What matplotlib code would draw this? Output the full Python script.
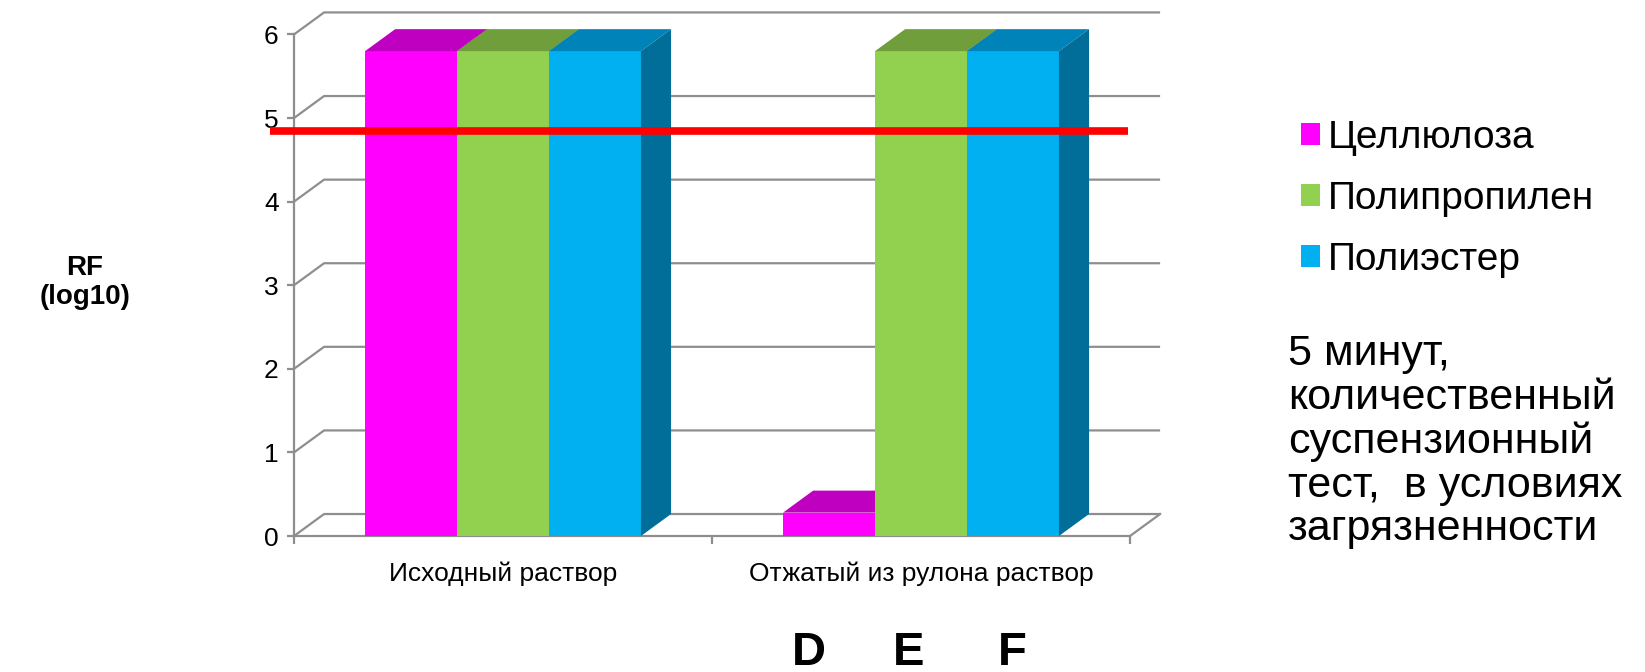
import matplotlib
matplotlib.use("Agg")
import matplotlib.pyplot as plt
from matplotlib.patches import Patch

plt.rcParams['font.family'] = ['Liberation Sans', 'DejaVu Sans']

# --------------------------------------------------------------------------------------------------------
# Data: RF (log10) per material for the two solutions
# --------------------------------------------------------------------------------------------------------
categories = ['Исходный раствор', 'Отжатый из рулона раствор']
materials = ['Целлюлоза', 'Полипропилен', 'Полиэстер']
cellulose = [5.8, 0.28]
polypropylene = [5.8, 5.8]
polyester = [5.8, 5.8]
threshold = 4.85
y_ticks = [0, 1, 2, 3, 4, 5, 6]
letters = ['D', 'E', 'F']
note = '5 минут,\nколичественный\nсуспензионный\nтест,  в условиях\nзагрязненности'

series = [cellulose, polypropylene, polyester]
front_colors = ['#ff00ff', '#92d050', '#00b0f0']
top_colors = ['#c000c0', '#6f9e3b', '#0083b8']
side_colors = ['#a800a8', '#5e8a30', '#006e99']
grid_color = '#8e8e8e'

# 3d depth of the box, in data units
dx = 0.072
dy = 0.263
bar_w = 0.22

fig = plt.figure(figsize=(16.45, 6.72), dpi=100)
ax = fig.add_axes([270 / 1645, 112 / 672, 895 / 1645, 555 / 672])
ax.set_xlim(-0.0574, 2.0837)
ax.set_ylim(-0.287, 6.352)
ax.patch.set_visible(False)

# back wall gridlines with the slanted side wall segment
for v in y_ticks:
    ax.plot([0, dx, len(categories) + dx], [v, v + dy, v + dy],
            color=grid_color, lw=1.6, zorder=1, solid_capstyle='butt')
ax.plot([len(categories), len(categories) + dx], [0, dy],
        color=grid_color, lw=1.6, zorder=1)

# axes spines placed on the front plane
for s in ['top', 'right']:
    ax.spines[s].set_visible(False)
ax.spines['left'].set_position(('data', 0))
ax.spines['left'].set_bounds(0, 6)
ax.spines['bottom'].set_position(('data', 0))
ax.spines['bottom'].set_bounds(0, len(categories))
for s in ['left', 'bottom']:
    ax.spines[s].set_color(grid_color)
    ax.spines[s].set_linewidth(1.6)
    ax.spines[s].set_zorder(1)

ax.set_yticks(y_ticks)
ax.tick_params(axis='y', direction='out', length=5, width=1.6, color=grid_color,
               labelsize=19, pad=6)
ax.set_xticks(range(len(categories) + 1))
ax.set_xticklabels([])
ax.set_xticks([i + 0.5 for i in range(len(categories))], minor=True)
ax.set_xticklabels(categories, minor=True, fontsize=19)
ax.tick_params(axis='x', which='major', direction='out', length=6, width=1.6, color=grid_color)
ax.tick_params(axis='x', which='minor', length=0, pad=18)


def draw_bar(x0, h, front, top, side, z):
    ax.fill([x0, x0 + bar_w, x0 + bar_w, x0], [0, 0, h, h], color=front, lw=0, zorder=z)
    ax.fill([x0, x0 + bar_w, x0 + bar_w + dx, x0 + dx], [h, h, h + dy, h + dy],
            color=top, lw=0, zorder=z)
    ax.fill([x0 + bar_w, x0 + bar_w + dx, x0 + bar_w + dx, x0 + bar_w], [0, dy, h + dy, h],
            color=side, lw=0, zorder=z)


for g in range(len(categories)):
    for i, vals in enumerate(series):
        x0 = g + 0.5 + (i - 1.5) * bar_w
        draw_bar(x0, vals[g], front_colors[i], top_colors[i], side_colors[i], 3 + i * 0.1)

# threshold line
ax.plot([-0.057, 1.995], [threshold, threshold], color='#ff0000', lw=5.5, zorder=10,
        solid_capstyle='butt')

# legend and notes
handles = [Patch(facecolor=c, edgecolor='none') for c in front_colors]
fig.legend(handles, materials, loc='upper left', bbox_to_anchor=(1301 / 1645, 1 - 120 / 672),
           frameon=False, fontsize=28, handlelength=0.5, handleheight=0.5,
           handletextpad=0.2, labelspacing=0.64, borderpad=0, borderaxespad=0)
fig.text(1288 / 1645, 1 - 334 / 672, note, fontsize=31, va='top', ha='left', linespacing=1.12)

fig.text(85 / 1645, 1 - 282 / 672, 'RF\n(log10)', fontsize=20, fontweight='bold',
         ha='center', va='center', linespacing=1.15)

for x_px, letter in zip([809, 909, 1012], letters):
    fig.text(x_px / 1645, 1 - 653 / 672, letter, fontsize=34, fontweight='bold',
             ha='center', va='center')

plt.savefig('out.png', dpi=100)
